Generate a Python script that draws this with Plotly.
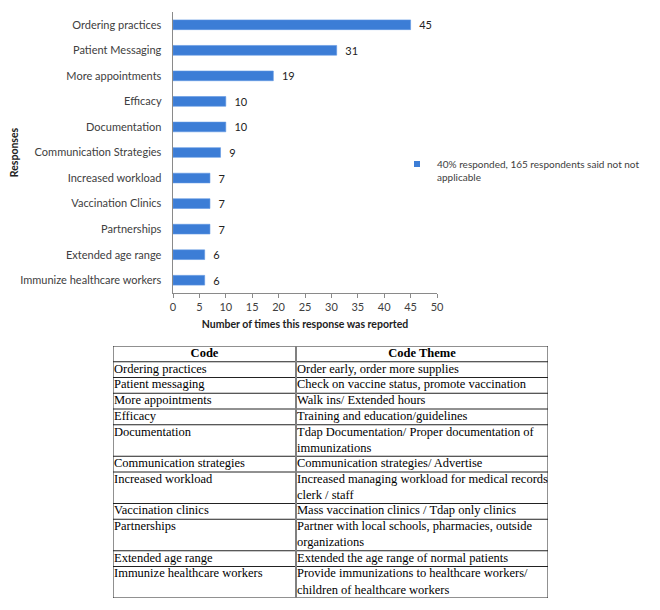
import plotly.graph_objects as go

# survey responses (top to bottom)
responses = ["Ordering practices", "Patient Messaging", "More appointments", "Efficacy",
             "Documentation", "Communication Strategies", "Increased workload",
             "Vaccination Clinics", "Partnerships", "Extended age range",
             "Immunize healthcare workers"]
counts = [45, 31, 19, 10, 10, 9, 7, 7, 7, 6, 6]
series_name = "40% responded, 165 respondents said not not<br>applicable"
x_ticks = [0, 5, 10, 15, 20, 25, 30, 35, 40, 45, 50]

# table below the chart
codes = ["Ordering practices", "Patient messaging", "More appointments", "Efficacy",
         "Documentation", "Communication strategies", "Increased workload",
         "Vaccination clinics", "Partnerships", "Extended age range",
         "Immunize healthcare workers"]
themes = ["Order early, order more supplies",
          "Check on vaccine status, promote vaccination",
          "Walk ins/ Extended hours",
          "Training and education/guidelines",
          "Tdap Documentation/ Proper documentation of<br>immunizations",
          "Communication strategies/ Advertise",
          "Increased managing workload for medical records<br>clerk / staff",
          "Mass vaccination clinics / Tdap only clinics",
          "Partner with local schools, pharmacies, outside<br>organizations",
          "Extended the age range of normal patients",
          "Provide immunizations to healthcare workers/<br>children of healthcare workers"]
headers = ["<b>Code</b>", "<b>Code Theme</b>"]

BLUE = "#3C7DD6"
TXT = "#404040"
CHART_FONT = "Lato, 'Open Sans', sans-serif"
SERIF = "'Liberation Serif', 'Times New Roman', serif"

# the page body has an 8px margin, so the figure is 652x602 and placed at (8, 8)
W, H = 652, 602
def fx(px):
    return (px - 8) / W
def fy(py):
    return 1 - (py - 8) / H

fig = go.Figure()

fig.add_trace(go.Bar(
    x=counts, y=responses, orientation="h",
    marker=dict(color=BLUE, line=dict(color="#5F97E3", width=0.6)),
    width=0.38,
    text=counts, texttemplate="  %{x}", textposition="outside",
    constraintext="none",
    textfont=dict(family=CHART_FONT, size=11, color="#222"),
    cliponaxis=False, showlegend=False,
))
# legend entry with a small square swatch
fig.add_trace(go.Scatter(
    x=[None], y=[None], mode="markers", name=series_name,
    marker=dict(symbol="square", size=6, color=BLUE),
))

# ---- table, drawn on its own axes (x in column-width units, y in text lines)
col_w = [183, 252]
table_w = sum(col_w)
rows = [headers] + [[c, t] for c, t in zip(codes, themes)]
n_lines = [max(cell.count("<br>") + 1 for cell in r) for r in rows]
bounds = [0]
for n in n_lines:
    bounds.append(bounds[-1] + n)
total = bounds[-1]

gx, gy = [], []
for b in bounds:
    gx += [0, table_w, None]
    gy += [b, b, None]
for xv in [0, table_w]:
    gx += [xv, xv, None]
    gy += [0, total, None]
fig.add_trace(go.Scatter(x=gx, y=gy, mode="lines", xaxis="x2", yaxis="y2",
                         line=dict(color="#222", width=1), showlegend=False,
                         hoverinfo="skip"))
fig.add_trace(go.Scatter(x=[col_w[0], col_w[0]], y=[0, total], mode="lines",
                         xaxis="x2", yaxis="y2", line=dict(color="#808080", width=2),
                         showlegend=False, hoverinfo="skip"))

# header text
fig.add_trace(go.Scatter(
    x=[col_w[0] / 2, col_w[0] + col_w[1] / 2], y=[0.5, 0.5], text=headers,
    mode="text", textposition="middle center", xaxis="x2", yaxis="y2",
    textfont=dict(family=SERIF, size=12.5, color="black"),
    showlegend=False, hoverinfo="skip", cliponaxis=False))
# body text
bx, by, bt = [], [], []
for i, r in enumerate(rows[1:], start=1):
    for j, cell in enumerate(r):
        bx.append(sum(col_w[:j]) + 1)
        by.append(bounds[i] + (cell.count("<br>") + 1) / 2)
        bt.append(cell)
fig.add_trace(go.Scatter(
    x=bx, y=by, text=bt, mode="text", textposition="middle right",
    xaxis="x2", yaxis="y2",
    textfont=dict(family=SERIF, size=12.5, color="black"),
    showlegend=False, hoverinfo="skip", cliponaxis=False))

hidden = dict(visible=False, showgrid=False, zeroline=False, fixedrange=True)

fig.update_layout(
    width=W, height=H,
    margin=dict(l=0, r=0, t=0, b=0),
    paper_bgcolor="white", plot_bgcolor="white",
    font=dict(family=CHART_FONT, size=11, color=TXT),
    legend=dict(x=fx(397), y=fy(151), xanchor="left", yanchor="top", valign="top",
                font=dict(family=CHART_FONT, size=10, color=TXT),
                bgcolor="rgba(0,0,0,0)", itemwidth=30),
    xaxis=dict(domain=[fx(173), fx(437)], range=[0, 50], tickvals=x_ticks,
               showgrid=False, zeroline=False, showline=True, linecolor="#8a8a8a",
               ticks="outside", ticklen=4, tickcolor="#8a8a8a", automargin=False,
               tickfont=dict(size=11, color=TXT),
               title=dict(text="<b>Number of times this response was reported</b>",
                          font=dict(size=10.5, color="#222"), standoff=8)),
    yaxis=dict(domain=[fy(293), fy(12)], autorange="reversed",
               showgrid=False, zeroline=False, showline=True, linecolor="#8a8a8a",
               ticks="", automargin=False, ticksuffix="   ",
               tickfont=dict(size=11, color=TXT),
               title=dict(text="<b>Responses</b>", font=dict(size=10.5, color="#222"),
                          standoff=0)),
    xaxis2=dict(domain=[fx(113), fx(548)], range=[0, table_w], anchor="y2", **hidden),
    yaxis2=dict(domain=[fy(598), fy(346)], range=[total, 0], anchor="x2", **hidden),
)

fig.write_html("out.html")
